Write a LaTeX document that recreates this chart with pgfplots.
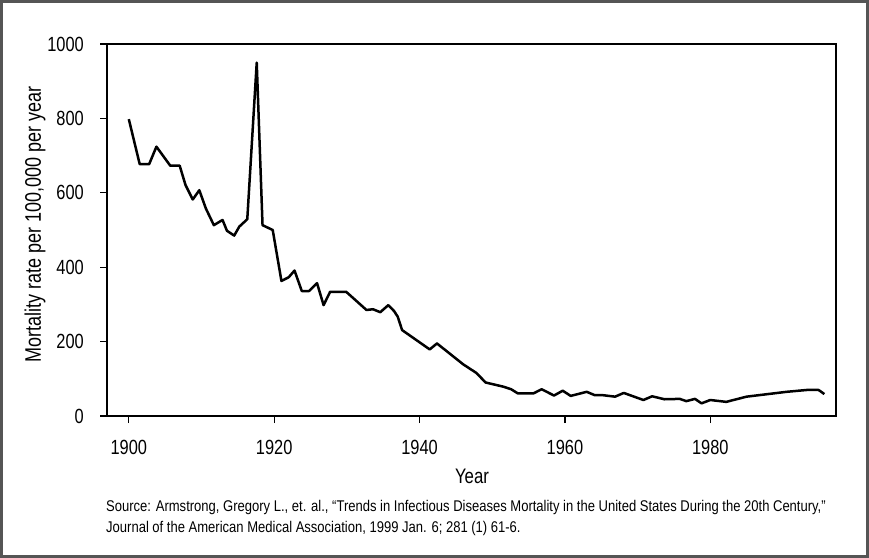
\documentclass[border=0pt]{standalone}
\usepackage{fontspec}
\setmainfont{Liberation Sans}
\newfontfamily\cond[FakeStretch=0.8]{Liberation Sans}
\newfontfamily\condb[FakeStretch=0.84]{Liberation Sans}
\usepackage{pgfplots}
\pgfplotsset{compat=1.18}
\definecolor{framegray}{RGB}{85,85,85}
\begin{document}
\begin{tikzpicture}[x=1bp,y=1bp]
\begin{axis}[
  at={(0,0)}, anchor=south west,
  scale only axis, width=729bp, height=372bp,
  xmin=1897, xmax=1997.3, ymin=0, ymax=1000,
  xtick={1900,1920,1940,1960,1980},
  ytick={0,200,400,600,800,1000},
  tick align=outside, major tick length=7bp,
  every tick/.style={black, line width=1.2bp},
  axis line style={black, line width=2bp},
  xtick pos=bottom, ytick pos=left,
  /pgf/number format/assume math mode=true,
  /pgf/number format/1000 sep={},
  ticklabel style={font=\cond\fontsize{20.5bp}{24bp}\selectfont, inner sep=0pt},
  yticklabel style={anchor=east, xshift=-16bp},
  xticklabel style={anchor=north, yshift=-17bp},
  clip=false,
]
\addplot[black, line width=2.5bp, line join=round, no markers] coordinates {
(1900,798) (1901.5,677) (1902.8,677) (1903.8,724) (1905.7,673) (1907,673)
(1907.8,621) (1908.8,582) (1909.7,607) (1910.6,558) (1911.7,513) (1912.9,527)
(1913.5,498) (1914.5,485) (1915.2,509) (1916.3,529) (1917.6,950) (1918.4,513)
(1919.8,500) (1921,363) (1922,373) (1922.8,391) (1923.8,336) (1924.8,336)
(1925.9,357) (1926.8,298) (1927.7,334) (1929.9,334) (1932.7,285) (1933.6,287)
(1934.6,279) (1935.7,298) (1936.5,282) (1937,267) (1937.6,231) (1941.4,179)
(1942.4,195) (1946,139) (1947.8,116) (1949.1,90) (1951.5,79) (1952.6,72)
(1953.5,61) (1955.7,61) (1956.8,72) (1958.5,55) (1959.7,68) (1960.8,54)
(1963,65) (1964.1,56) (1965.2,56) (1966.9,52) (1968.1,62) (1970.8,43)
(1972,53) (1973.7,45) (1975.8,46) (1976.7,40) (1977.9,46) (1978.8,34)
(1980,43) (1982.2,38) (1985,52) (1990.5,65) (1993.3,70) (1994.9,70) (1995.7,59)
};
\end{axis}
\node[rotate=90, anchor=base, font=\cond\fontsize{22.5bp}{26bp}\selectfont] at (-66bp,191.5bp) {Mortality rate per 100,000 per year};
\node[anchor=base, font=\cond\fontsize{21bp}{25bp}\selectfont, inner sep=0pt] at (365bp,-67bp) {Year};
\node[anchor=base west, font=\condb\fontsize{15.5bp}{18bp}\selectfont, inner sep=0pt] at (-1bp,-95bp) {Source: Armstrong, Gregory L., et. al., “Trends in Infectious Diseases Mortality in the United States During the 20th Century,”};
\node[anchor=base west, font=\condb\fontsize{15.5bp}{18bp}\selectfont, inner sep=0pt] at (-1bp,-116bp) {Journal of the American Medical Association, 1999 Jan. 6; 281 (1) 61-6.};
\draw[framegray, line width=3bp] (-105.5bp,-140.5bp) rectangle (760.5bp,414.5bp);
\pgfresetboundingbox
\useasboundingbox (-107bp,-142bp) rectangle (762bp,416bp);
\end{tikzpicture}
\end{document}
